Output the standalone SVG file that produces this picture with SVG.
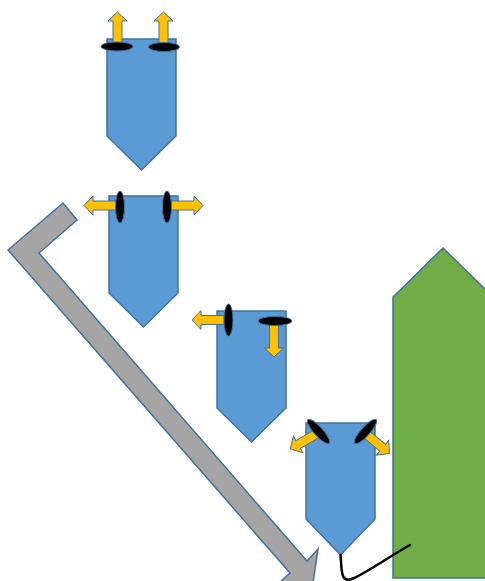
<svg xmlns="http://www.w3.org/2000/svg" xmlns:xlink="http://www.w3.org/1999/xlink" width="485" height="581" viewBox="0 0 485 581">
<style>
.pent{fill:#5B9BD5;stroke:#41719C;stroke-width:1.5;stroke-linejoin:miter}
.yarr{fill:#FFC000;stroke:#41719C;stroke-width:1}
.seal{fill:#000;stroke:#41719C;stroke-width:1}
.gray{fill:#A5A5A5;stroke:#41719C;stroke-width:1.5}
.green{fill:#70AD47;stroke:#41719C;stroke-width:1.5}
.wire{fill:none;stroke:#000;stroke-width:2.5;stroke-linecap:round}
</style>
<defs>
<path id="ya" d="M0,-4.5 H23 V-9.5 L32,0 L23,9.5 V4.5 H0 Z"/>
</defs>
<rect width="485" height="581" fill="#fff"/>
<g id="bent-arrow">
<polygon class="gray" points="63,203 8,250 290,573 278,584 313,583 318,549 307,561 39,253 77,220"/>
</g>
<g id="green-block">
<polygon class="green" points="393,297 443,248 493,297 493,578 393,578"/>
</g>
<g id="unit1">
<polygon class="pent" points="107,39 176,39 176,136 141.5,170 107,136"/>
<use href="#ya" xlink:href="#ya" class="yarr" transform="translate(117.5,44) rotate(-90)"/>
<use href="#ya" xlink:href="#ya" class="yarr" transform="translate(163.5,44) rotate(-90)"/>
<ellipse class="seal" cx="117" cy="46.5" rx="16" ry="4.5"/>
<ellipse class="seal" cx="164" cy="47" rx="15.5" ry="4.5"/>
</g>
<g id="unit2">
<polygon class="pent" points="109,196 178,196 178,293 143.5,327 109,293"/>
<use href="#ya" xlink:href="#ya" class="yarr" transform="translate(116,205.5) rotate(180)"/>
<use href="#ya" xlink:href="#ya" class="yarr" transform="translate(171,205.5)"/>
<ellipse class="seal" cx="120" cy="207" rx="4.5" ry="16"/>
<ellipse class="seal" cx="167" cy="207" rx="4.5" ry="16"/>
</g>
<g id="unit3">
<polygon class="pent" points="217,311 286,311 286,408 251.5,442 217,408"/>
<use href="#ya" xlink:href="#ya" class="yarr" transform="translate(224,320) rotate(180)"/>
<use href="#ya" xlink:href="#ya" class="yarr" transform="translate(274,325) rotate(90)"/>
<ellipse class="seal" cx="228.5" cy="320" rx="4.5" ry="16"/>
<ellipse class="seal" cx="275" cy="321" rx="17" ry="4.5"/>
</g>
<g id="unit4">
<polygon class="pent" points="306,423 375,423 375,519 340.5,555 306,519"/>
<use href="#ya" xlink:href="#ya" class="yarr" transform="translate(318,433) rotate(150)"/>
<use href="#ya" xlink:href="#ya" class="yarr" transform="translate(365,433) rotate(40)"/>
<ellipse class="seal" cx="318.5" cy="431.5" rx="16" ry="4.5" transform="rotate(48 318.5 431.5)"/>
<ellipse class="seal" cx="365.5" cy="431.5" rx="16" ry="4.5" transform="rotate(-48 365.5 431.5)"/>
</g>
<g id="connectors">
<path class="wire" d="M340.5,555 C342,570 340,584 353,578.5 C366,573 395,553 410,545"/>
</g>
</svg>
